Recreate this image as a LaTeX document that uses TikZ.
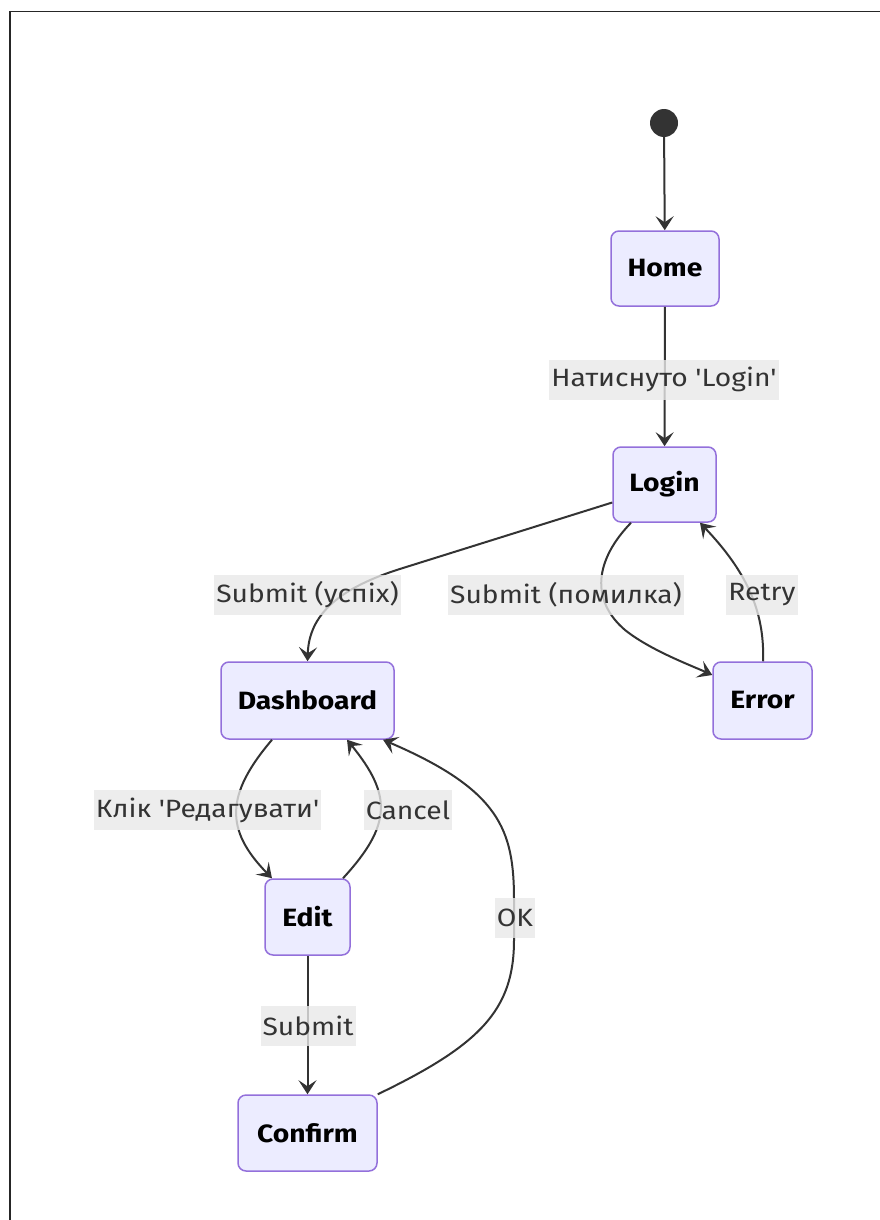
\documentclass[tikz,border=0pt]{standalone}
\usepackage{fontspec}
\newfontfamily\uifont{Fira Sans}[FakeStretch=1.13]
\usetikzlibrary{arrows.meta}
\definecolor{edgec}{HTML}{333333}
\definecolor{statefill}{HTML}{ECECFF}
\definecolor{stateline}{HTML}{9370DB}
\definecolor{lblbg}{HTML}{E8E8E8}
\begin{document}
\begin{tikzpicture}[x=1pt,y=-1pt,
  state/.style={draw=stateline, fill=statefill, line width=1.5pt, rounded corners=8pt,
    minimum height=75pt, inner xsep=0pt, text=black,
    font=\uifont\fontsize{25}{29}\selectfont\bfseries},
  trans/.style={draw=edgec, line width=2pt, -{Stealth[length=14pt,width=18pt,inset=6pt]}},
  lbl/.style={fill=lblbg, fill opacity=0.8, text opacity=1, text=edgec,
    font=\uifont\fontsize{25}{29}\selectfont, inner xsep=2pt, inner ysep=0pt, minimum height=40pt},
]
\useasboundingbox (0,0) rectangle (880,1220);
% window frame (left and top edges)
\draw[line width=1.6pt, color=black!85] (10,1220) -- (10,11.5) -- (880,11.5);

% states
\node[circle, fill=edgec, minimum size=28pt, inner sep=0pt] (start) at (664,123) {};
\node[state, minimum width=108pt] (home) at (665,268.5) {Home};
\node[state, minimum width=103pt] (login) at (664.5,484.5) {Login};
\node[state, minimum width=173pt, minimum height=77pt] (dash) at (307.5,700.5) {Dashboard};
\node[state, minimum width=99pt, minimum height=77pt] (error) at (762.5,700.5) {Error};
\node[state, minimum width=85pt, minimum height=76pt] (edit) at (307.5,917) {Edit};
\node[state, minimum width=139pt, minimum height=76pt] (confirm) at (307.5,1133) {Confirm};

% transitions
\draw[trans] (start) -- (home);
\draw[trans] (home) -- (login);
\draw[trans] ([yshift=-18pt]login.west) -- (403,568) .. controls (338,588) and (309,615) .. (dash.north);
\draw[trans] ([xshift=-33.5pt]login.south) .. controls (595,560) and (590,600) .. (625,630)
  .. controls (650,650) and (690,665) .. ([yshift=25.5pt]error.west);
\draw[trans] ([xshift=0.5pt]error.north) .. controls (765,610) and (745,570) .. ([xshift=35.5pt]login.south);
\draw[trans] ([xshift=-35.5pt]dash.south) .. controls (225,795) and (225,830) .. ([xshift=-35.5pt]edit.north);
\draw[trans] ([xshift=35.5pt]edit.north) .. controls (392,825) and (392,795) .. ([xshift=39.5pt]dash.south);
\draw[trans] (edit) -- (confirm);
\draw[trans] (confirm.north east) .. controls (480,1045) and (514,1010) .. (514,940) -- (514,900)
  .. controls (514,830) and (500,790) .. ([xshift=75.5pt]dash.south);

% transition labels
\node[lbl] (lLogin) at (664,379.5) {Натиснуто 'Login'};
\node[lbl] (lOk1) at (307.5,594.5) {Submit (успіх)};
\node[lbl] (lErr) at (566,594.5) {Submit (помилка)};
\node[lbl] (lRetry) at (762,594.5) {Retry};
\node[lbl] (lEdit) at (207.5,810) {Клік 'Редагувати'};
\node[lbl] (lCancel) at (408,810) {Cancel};
\node[lbl] (lOk) at (515,917.5) {OK};
\node[lbl] (lSubmit) at (308,1026) {Submit};
\end{tikzpicture}
\end{document}
